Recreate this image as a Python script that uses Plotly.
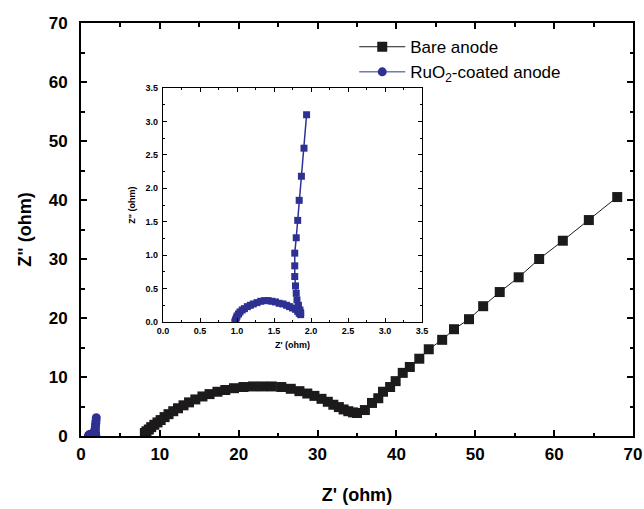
import plotly.graph_objects as go

# Bare anode (black squares)
bare_x = [8.1, 8.3, 8.6, 8.9, 9.3, 9.7, 10.1, 10.6, 11.1, 11.7, 12.3, 13.0, 13.7, 14.5, 15.4,
          16.3, 17.3, 18.3, 19.4, 20.6, 21.8, 23.0, 24.2, 25.4, 26.6, 27.7, 28.7, 29.6, 30.5,
          31.3, 32.0, 32.7, 33.3, 33.9, 34.5, 35.0, 36.0, 36.9, 37.7, 38.3, 39.2, 39.9, 40.8,
          41.7, 42.9, 44.1, 45.8, 47.3, 49.2, 51.0, 53.1, 55.5, 58.1, 61.1, 64.4, 68.0]
bare_y = [0.5, 0.8, 1.1, 1.5, 1.9, 2.3, 2.7, 3.2, 3.7, 4.2, 4.7, 5.2, 5.7, 6.2, 6.7,
          7.1, 7.5, 7.8, 8.1, 8.3, 8.4, 8.4, 8.4, 8.3, 8.0, 7.6, 7.2, 6.8, 6.3,
          5.8, 5.3, 4.9, 4.5, 4.2, 4.0, 3.9, 4.4, 5.6, 6.4, 7.5, 8.3, 9.3, 10.7,
          11.7, 13.1, 14.7, 16.3, 18.1, 19.8, 22.0, 24.4, 26.9, 30.0, 33.1, 36.6, 40.5]

# RuO2-coated anode (blue)
ruo2_x = [0.97, 0.98, 0.99, 1.00, 1.02, 1.04, 1.07, 1.10, 1.14, 1.18, 1.22, 1.27, 1.32, 1.37,
          1.42, 1.47, 1.52, 1.57, 1.62, 1.67, 1.71, 1.75, 1.79, 1.82, 1.84, 1.86, 1.86, 1.85,
          1.83, 1.81, 1.80, 1.79, 1.78, 1.78, 1.78, 1.80, 1.82, 1.84, 1.87, 1.905, 1.94]
ruo2_y = [0.00, 0.03, 0.06, 0.09, 0.12, 0.15, 0.18, 0.20, 0.23, 0.25, 0.27, 0.29, 0.31, 0.32,
          0.32, 0.31, 0.30, 0.28, 0.27, 0.25, 0.23, 0.21, 0.19, 0.16, 0.13, 0.11, 0.14, 0.18,
          0.25, 0.33, 0.43, 0.54, 0.68, 0.84, 1.03, 1.26, 1.52, 1.82, 2.18, 2.60, 3.10]

BLACK = "#1c1a1b"
BLUE = "#2e3192"
FONT = "Liberation Sans, Arial, sans-serif"

fig = go.Figure()
fig.add_trace(go.Scatter(
    x=bare_x, y=bare_y, mode="lines+markers", name="Bare anode",
    line=dict(color=BLACK, width=1),
    marker=dict(symbol="square", size=10, color=BLACK),
))
fig.add_trace(go.Scatter(
    x=ruo2_x, y=ruo2_y, mode="lines+markers", name="RuO<sub>2</sub>-coated anode",
    line=dict(color=BLUE, width=1),
    marker=dict(symbol="circle", size=9, color=BLUE),
))
fig.add_trace(go.Scatter(
    x=ruo2_x, y=ruo2_y, mode="lines+markers", showlegend=False,
    xaxis="x2", yaxis="y2",
    line=dict(color=BLUE, width=1.5),
    marker=dict(symbol="square", size=7, color=BLUE),
))

main_tick = dict(family=FONT, size=17, color="black", weight="bold")
main_title = dict(family=FONT, size=18, color="black", weight="bold")
inset_tick = dict(family=FONT, size=9, color="black", weight="bold")

common_main = dict(
    showgrid=False, zeroline=False, showline=True, linecolor="black", linewidth=2,
    mirror="ticks", ticks="inside", ticklen=6, tickwidth=1.5, tickcolor="black",
    tickfont=main_tick, tickmode="linear", automargin=False,
)
common_inset = dict(
    showgrid=False, zeroline=False, showline=True, linecolor="black", linewidth=1.2,
    mirror="ticks", ticks="inside", ticklen=4, tickwidth=1, tickcolor="black",
    tickfont=inset_tick, tickmode="linear", tickformat=".1f",
    range=[0, 3.5], tick0=0, dtick=0.5, automargin=False,
    minor=dict(ticks="inside", ticklen=2, tickwidth=1, dtick=0.25, tickcolor="black"),
)

fig.update_layout(
    width=644, height=509,
    margin=dict(l=81, r=11, t=23, b=73),
    paper_bgcolor="white", plot_bgcolor="white",
    font=dict(family=FONT, color="black"),
    xaxis=dict(range=[0, 70], tick0=0, dtick=10,
               minor=dict(ticks="inside", ticklen=3.5, tickwidth=1.5, dtick=5, tickcolor="black"),
               title=dict(text="Z' (ohm)", font=main_title, standoff=25),
               ticklabelstandoff=2, **common_main),
    yaxis=dict(range=[0, 70], tick0=0, dtick=10,
               minor=dict(ticks="inside", ticklen=3.5, tickwidth=1.5, dtick=5, tickcolor="black"),
               title=dict(text="Z\" (ohm)", font=main_title, standoff=12),
               ticklabelstandoff=8, **common_main),
    xaxis2=dict(domain=[0.1486, 0.6178], anchor="y2",
                title=dict(text="Z' (ohm)", font=dict(family=FONT, size=9, weight="bold"), standoff=6),
                **common_inset),
    yaxis2=dict(domain=[0.276, 0.8426], anchor="x2",
                title=dict(text="Z\" (ohm)", font=dict(family=FONT, size=9, weight="bold"), standoff=8),
                ticklabelstandoff=2,
                **common_inset),
    legend=dict(x=0.495, y=0.985, xanchor="left", yanchor="top",
                bgcolor="rgba(0,0,0,0)", borderwidth=0, itemwidth=46,
                font=dict(family=FONT, size=17, color="black"),
                tracegroupgap=0),
    showlegend=True,
)

fig.write_html(
    "out.html",
    config={"displayModeBar": False},
    post_script="document.body.style.margin='0';document.body.style.overflow='hidden';",
)
